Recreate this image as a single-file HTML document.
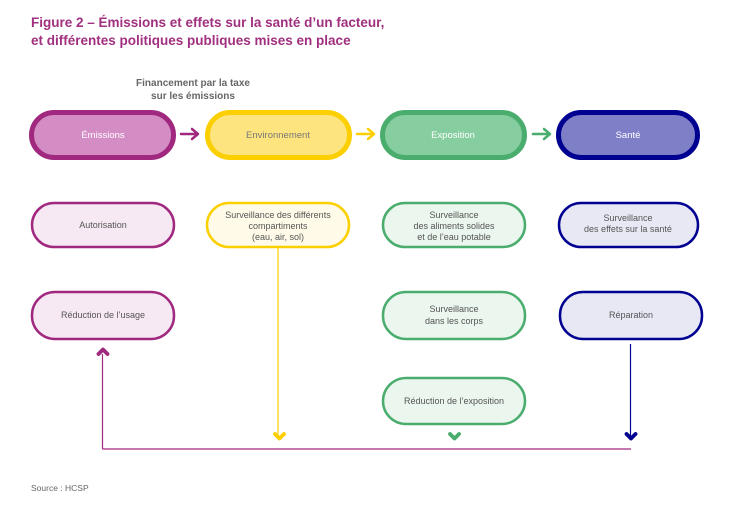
<!DOCTYPE html>
<html><head><meta charset="utf-8"><style>
html,body{margin:0;padding:0;background:#fff;}
svg{display:block;}
text{font-family:"Liberation Sans",sans-serif;}
</style></head><body>
<svg width="738" height="516" viewBox="0 0 738 516" xmlns="http://www.w3.org/2000/svg">
<text x="31" y="27" font-size="13.5" font-weight="bold" fill="#a0307f">Figure 2 – Émissions et effets sur la santé d’un facteur,</text>
<text x="31" y="45" font-size="13.5" font-weight="bold" fill="#a0307f">et différentes politiques publiques mises en place</text>
<text x="193" y="86" font-size="10" font-weight="bold" fill="#666" text-anchor="middle">Financement par la taxe</text>
<text x="193" y="99" font-size="10" font-weight="bold" fill="#666" text-anchor="middle">sur les émissions</text>

<g stroke-width="5">
<rect x="31.5" y="112.5" width="142" height="45" rx="22.5" fill="#d48cc4" stroke="#a0287f"/>
<rect x="207.5" y="112.5" width="142" height="45" rx="22.5" fill="#fde47f" stroke="#fccf00"/>
<rect x="382.5" y="112.5" width="142" height="45" rx="22.5" fill="#86cd9f" stroke="#4aad6e"/>
<rect x="558.5" y="112.5" width="139" height="45" rx="22.5" fill="#7f7fc8" stroke="#000091"/>
</g>
<g font-size="9.5" text-anchor="middle">
<text x="103" y="138" fill="#fff">Émissions</text>
<text x="278" y="138" fill="#777">Environnement</text>
<text x="453" y="138" fill="#fff">Exposition</text>
<text x="628" y="138" fill="#fff">Santé</text>
</g>
<g fill="none" stroke-width="2.5" stroke-linecap="round" stroke-linejoin="round">
<path d="M181 134H197M192 129L198 134L192 139" stroke="#a0287f"/>
<path d="M357 134H373M368 129L374 134L368 139" stroke="#fccf00"/>
<path d="M533 134H549M544 129L550 134L544 139" stroke="#4aad6e"/>
</g>

<g stroke-width="2.5">
<rect x="32" y="203" width="142" height="44" rx="22" fill="#f6e9f3" stroke="#a0287f"/>
<rect x="207" y="203" width="142" height="44" rx="22" fill="#fffbe8" stroke="#fccf00"/>
<rect x="383" y="203" width="142" height="44" rx="22" fill="#eaf6ee" stroke="#4aad6e"/>
<rect x="559" y="203" width="139" height="44" rx="22" fill="#e8e8f5" stroke="#000091"/>
<rect x="32" y="292" width="142" height="47" rx="23" fill="#f6e9f3" stroke="#a0287f"/>
<rect x="383" y="292" width="142" height="47" rx="23" fill="#eaf6ee" stroke="#4aad6e"/>
<rect x="560" y="292" width="142" height="47" rx="23" fill="#e8e8f5" stroke="#000091"/>
<rect x="383" y="378" width="142" height="46" rx="23" fill="#eaf6ee" stroke="#4aad6e"/>
</g>
<g font-size="9" fill="#555" text-anchor="middle">
<text x="103" y="228">Autorisation</text>
<text x="278" y="218">Surveillance des différents</text>
<text x="278" y="229">compartiments</text>
<text x="278" y="240">(eau, air, sol)</text>
<text x="454" y="218">Surveillance</text>
<text x="454" y="229">des aliments solides</text>
<text x="454" y="240">et de l’eau potable</text>
<text x="628" y="221">Surveillance</text>
<text x="628" y="232">des effets sur la santé</text>
<text x="103" y="318">Réduction de l’usage</text>
<text x="454" y="312">Surveillance</text>
<text x="454" y="324">dans les corps</text>
<text x="631" y="318">Réparation</text>
<text x="454" y="404">Réduction de l’exposition</text>
</g>

<line x1="278" y1="247" x2="278" y2="436" stroke="#fccf00" stroke-width="1.2"/>
<line x1="630.5" y1="344" x2="630.5" y2="436" stroke="#000091" stroke-width="1.2"/>
<path d="M102.5 449V354M102.5 449H631" fill="none" stroke="#a0287f" stroke-width="1.2"/>
<g fill="none" stroke-width="3.8" stroke-linecap="round" stroke-linejoin="round">
<path d="M275 434L279.5 438.5L284 434" stroke="#fccf00"/>
<path d="M450 434L454.5 438.5L459 434" stroke="#4aad6e"/>
<path d="M626.5 434L631 438.5L635.5 434" stroke="#000091"/>
<path d="M98.5 354L103 349.5L107.5 354" stroke="#a0287f"/>
</g>
<text x="31" y="491" font-size="8.5" fill="#666">Source : HCSP</text>
</svg>
</body></html>
